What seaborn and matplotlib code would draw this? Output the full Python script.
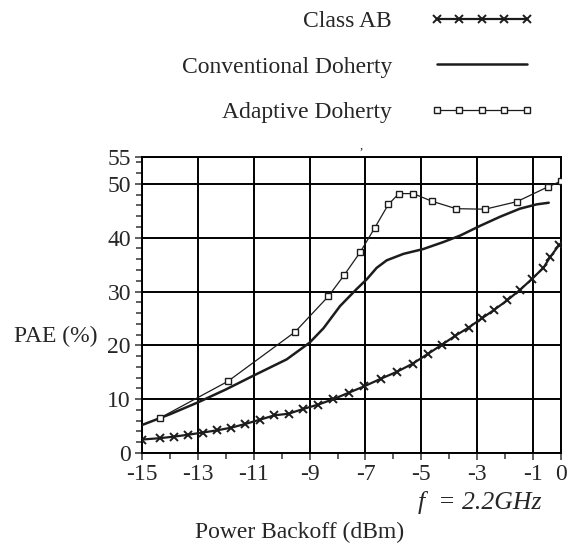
import numpy as np
import matplotlib
matplotlib.use("Agg")
import matplotlib.pyplot as plt
import seaborn as sns
from matplotlib.ticker import MultipleLocator, FixedLocator

# data
ab_x = [-15.0, -14.37, -13.84, -13.34, -12.83, -12.33, -11.81, -11.3, -10.77, -10.26,
        -9.75, -9.22, -8.69, -8.15, -7.6, -7.04, -6.45, -5.87, -5.31, -4.77,
        -4.27, -3.78, -3.31, -2.84, -2.39, -1.92, -1.47, -1.05, -0.63, -0.39, -0.06]
ab_y = [2.5, 2.75, 3.05, 3.4, 3.8, 4.2, 4.7, 5.4, 6.2, 7.0,
        7.3, 8.2, 9.0, 10.0, 11.2, 12.4, 13.8, 15.1, 16.6, 18.4,
        20.1, 21.8, 23.3, 25.0, 26.6, 28.4, 30.3, 32.3, 34.4, 36.4, 38.7]

conv_x = [-15.0, -14.0, -13.0, -12.0, -11.0, -9.82, -9.0, -8.5, -7.91, -7.31,
          -6.95, -6.6, -6.24, -5.64, -4.93, -4.21, -3.61, -2.9, -2.18, -1.47,
          -0.87, -0.44]
conv_y = [5.2, 7.2, 9.4, 11.8, 14.4, 17.4, 20.5, 23.2, 27.3, 30.5,
          32.3, 34.4, 35.8, 37.0, 37.9, 39.2, 40.4, 42.2, 43.9, 45.4,
          46.2, 46.5]

adap_x = [-14.36, -11.93, -9.52, -8.33, -7.77, -7.19, -6.66, -6.18, -5.8, -5.29,
          -4.63, -3.76, -2.72, -1.58, -0.45, 0.0]
adap_y = [6.5, 13.3, 22.5, 29.1, 33.0, 37.3, 41.9, 46.2, 48.2, 48.2,
          46.8, 45.4, 45.3, 46.7, 49.5, 50.5]

x_ticks = [-15, -13, -11, -9, -7, -5, -3, -1, 0]
y_ticks = [0, 10, 20, 30, 40, 50, 55]

sns.set_theme(style="ticks")
plt.rcParams['font.family'] = ['Liberation Serif', 'DejaVu Serif']
plt.rcParams['axes.unicode_minus'] = False

fig = plt.figure(figsize=(5.71, 5.45), dpi=100)
ax = fig.add_axes([142 / 571, 1 - 453 / 545, 419 / 571, 296 / 545])

ink = "#1c1c1c"
sns.lineplot(x=ab_x, y=ab_y, ax=ax, color=ink, lw=1.6, marker="x", markersize=6,
             markeredgewidth=1.4, markeredgecolor=ink, sort=False, estimator=None,
             label="Class AB", zorder=4)
sns.lineplot(x=conv_x, y=conv_y, ax=ax, color=ink, lw=1.8, sort=False, estimator=None,
             label="Conventional Doherty", zorder=4)
sns.lineplot(x=adap_x, y=adap_y, ax=ax, color=ink, lw=0.9, marker="s", markersize=5,
             markerfacecolor="white", markeredgecolor=ink, markeredgewidth=1.0,
             sort=False, estimator=None, label="Adaptive Doherty", zorder=4)

ax.set_xlim(-15, 0)
ax.set_ylim(0, 55)
ax.xaxis.set_major_locator(FixedLocator(x_ticks))
ax.xaxis.set_minor_locator(MultipleLocator(1))
ax.yaxis.set_major_locator(FixedLocator(y_ticks))
ax.yaxis.set_minor_locator(MultipleLocator(2))
ax.set_xticklabels([str(t) for t in x_ticks])
ax.set_yticklabels([str(t) for t in y_ticks])
ax.tick_params(axis="both", which="major", labelsize=17, length=5, width=1.2,
               color="#444444", pad=3, direction="out")
ax.tick_params(axis="both", which="minor", length=4, width=1.2, color="#444444",
               direction="out")
ax.grid(True, which="major", color="black", lw=1.4)
for s in ax.spines.values():
    s.set_color("black")
    s.set_linewidth(1.4)
ax.set_xlabel("")
ax.set_ylabel("")

ax.legend(markerfirst=False, numpoints=5, handlelength=4.4, handletextpad=1.6,
          labelspacing=1.02, frameon=False, fontsize=17, loc="upper right",
          bbox_to_anchor=(536 / 571, 1 - 8 / 545), bbox_transform=fig.transFigure,
          borderaxespad=0, borderpad=0.1)

fig.text(98 / 571, 1 - 336 / 545, "PAE (%)", fontsize=17, ha="right", va="center")
fig.text(300 / 571, 1 - 532 / 545, "Power Backoff (dBm)", fontsize=17,
         ha="center", va="center")
fig.text(418 / 571, 1 - 502 / 545, "f  = 2.2GHz", fontsize=18.5, style="italic",
         ha="left", va="center")
fig.text(361 / 571, 1 - 146 / 545, ",", fontsize=9, ha="center", va="center")

fig.savefig("out.png", dpi=100)
